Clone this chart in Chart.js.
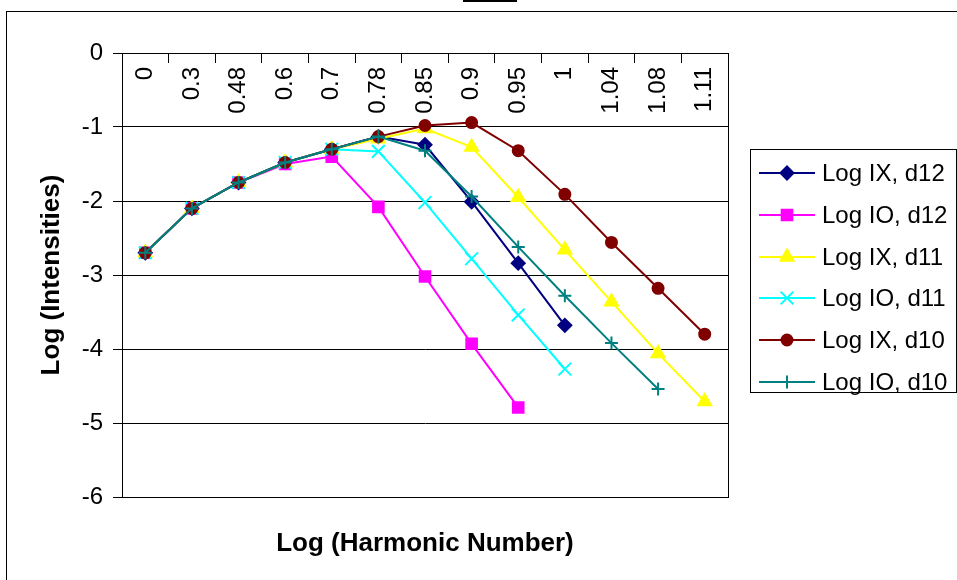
<!DOCTYPE html>
<html lang="en">
    <head>
        <meta charset="UTF-8">
        <title>Log Intensities vs Log Harmonic Number</title>
        <script src="https://cdn.jsdelivr.net/npm/chart.js"></script>
        <style>
            body { margin: 0; background: #fff; }
            canvas { display: block; }
        </style>
    </head>
    <body>
        <canvas id="harmChart" width="957" height="580"></canvas>

        <script>
            // x categories (log of harmonic number)
            const categories = ['0', '0.3', '0.48', '0.6', '0.7', '0.78', '0.85', '0.9', '0.95', '1', '1.04', '1.08', '1.11'];

            const logIXd12 = [-2.70, -2.10, -1.75, -1.48, -1.30, -1.13, -1.24, -2.01, -2.84, -3.68, null, null, null];
            const logIOd12 = [-2.70, -2.10, -1.75, -1.50, -1.40, -2.08, -3.02, -3.93, -4.79, null, null, null, null];
            const logIXd11 = [-2.70, -2.10, -1.75, -1.48, -1.30, -1.16, -1.02, -1.27, -1.95, -2.66, -3.36, -4.06, -4.71];
            const logIOd11 = [-2.70, -2.10, -1.75, -1.48, -1.30, -1.33, -2.02, -2.78, -3.54, -4.27, null, null, null];
            const logIXd10 = [-2.70, -2.10, -1.75, -1.48, -1.30, -1.13, -0.98, -0.94, -1.32, -1.91, -2.56, -3.18, -3.80];
            const logIOd10 = [-2.70, -2.10, -1.75, -1.48, -1.30, -1.13, -1.32, -1.94, -2.62, -3.28, -3.92, -4.54, null];

            const FONT = "'Liberation Sans', Arial, sans-serif";

            function series(label, data, color, style, radius, order) {
                return {
                    label: label,
                    data: data,
                    borderColor: color,
                    backgroundColor: color,
                    borderWidth: 2,
                    pointStyle: style,
                    pointRadius: radius,
                    pointHoverRadius: radius,
                    pointBorderWidth: 2,
                    pointBackgroundColor: color,
                    pointBorderColor: color,
                    tension: 0,
                    fill: false,
                    order: order
                };
            }

            // white page frame + the piece of black bar at the top
            const frame = {
                id: 'frame',
                beforeDraw(chart) {
                    const ctx = chart.ctx;
                    ctx.save();
                    ctx.fillStyle = '#fff';
                    ctx.fillRect(0, 0, chart.width, chart.height);
                    ctx.strokeStyle = '#000';
                    ctx.lineWidth = 1;
                    ctx.strokeRect(6.5, 11.5, 1000, 1000);
                    ctx.fillStyle = '#000';
                    ctx.fillRect(463, 0, 54, 2);
                    ctx.restore();
                },
                beforeDatasetsDraw(chart) {
                    const a = chart.chartArea;
                    const ctx = chart.ctx;
                    ctx.save();
                    ctx.strokeStyle = '#000';
                    ctx.lineWidth = 1;
                    ctx.strokeRect(Math.round(a.left) + 0.5, Math.round(a.top) + 0.5,
                        Math.round(a.right - a.left), Math.round(a.bottom - a.top));
                    ctx.restore();
                }
            };

            // boxed legend: line sample with marker, then the label
            const sideLegend = {
                id: 'sideLegend',
                afterDraw(chart) {
                    const ctx = chart.ctx;
                    const sets = chart.data.datasets;
                    ctx.save();
                    ctx.strokeStyle = '#000';
                    ctx.lineWidth = 1;
                    ctx.strokeRect(750.5, 149.5, 206, 243);
                    ctx.font = '24px ' + FONT;
                    ctx.textBaseline = 'middle';
                    ctx.textAlign = 'left';
                    sets.forEach((ds, i) => {
                        const y = Math.round(173 + i * 41.8);
                        ctx.strokeStyle = ds.borderColor;
                        ctx.lineWidth = 2;
                        ctx.beginPath();
                        ctx.moveTo(759, y);
                        ctx.lineTo(815, y);
                        ctx.stroke();
                        ctx.fillStyle = ds.backgroundColor;
                        Chart.helpers.drawPoint(ctx, {
                            pointStyle: ds.pointStyle,
                            radius: ds.pointRadius,
                            rotation: 0,
                            borderWidth: ds.pointBorderWidth
                        }, 787, y);
                        ctx.fillStyle = '#000';
                        ctx.fillText(ds.label, 822, y + 1);
                    });
                    ctx.restore();
                }
            };

            const ctx = document.getElementById('harmChart').getContext('2d');

            const chart = new Chart(ctx, {
                type: 'line',
                data: {
                    labels: categories,
                    datasets: [
                        series('Log IX, d12', logIXd12, '#000080', 'rectRot', 6.5, 5),
                        series('Log IO, d12', logIOd12, '#FF00FF', 'rect', 7.5, 4),
                        series('Log IX, d11', logIXd11, '#FFFF00', 'triangle', 7.5, 3),
                        series('Log IO, d11', logIOd11, '#00FFFF', 'crossRot', 9, 2),
                        series('Log IX, d10', logIXd10, '#800000', 'circle', 5.5, 1),
                        series('Log IO, d10', logIOd10, '#008080', 'cross', 6.5, 0)
                    ]
                },
                options: {
                    responsive: false,
                    animation: false,
                    layout: {
                        padding: { left: 0, top: 53, right: 229, bottom: 0 }
                    },
                    plugins: {
                        legend: { display: false },
                        tooltip: { enabled: false }
                    },
                    scales: {
                        x: {
                            type: 'category',
                            position: { y: 0 },
                            offset: true,
                            grid: {
                                offset: true,
                                drawOnChartArea: false,
                                drawTicks: true,
                                tickLength: 9,
                                color: '#000'
                            },
                            border: { display: true, color: '#000' },
                            ticks: {
                                minRotation: 90,
                                maxRotation: 90,
                                autoSkip: false,
                                padding: 5,
                                color: '#000',
                                font: { family: FONT, size: 24 }
                            }
                        },
                        xTitle: {
                            type: 'category',
                            labels: categories,
                            position: 'bottom',
                            grid: { display: false, drawTicks: false },
                            border: { display: false },
                            ticks: { display: false },
                            title: {
                                display: true,
                                text: 'Log (Harmonic Number)',
                                color: '#000',
                                font: { family: FONT, size: 26, weight: 'bold' },
                                padding: { top: 0, bottom: 21 }
                            },
                            afterFit(scale) { scale.height = 83; }
                        },
                        y: {
                            min: -6,
                            max: 0,
                            ticks: {
                                stepSize: 1,
                                padding: 10,
                                color: '#000',
                                font: { family: FONT, size: 24 }
                            },
                            grid: { color: '#000', tickLength: 9 },
                            border: { display: true, color: '#000' },
                            title: {
                                display: true,
                                text: 'Log (Intensities)',
                                color: '#000',
                                font: { family: FONT, size: 26, weight: 'bold' },
                                padding: { top: 36, bottom: 0 }
                            },
                            afterFit(scale) { scale.width = 122; }
                        }
                    }
                },
                plugins: [frame, sideLegend]
            });
        </script>
    </body>
</html>
